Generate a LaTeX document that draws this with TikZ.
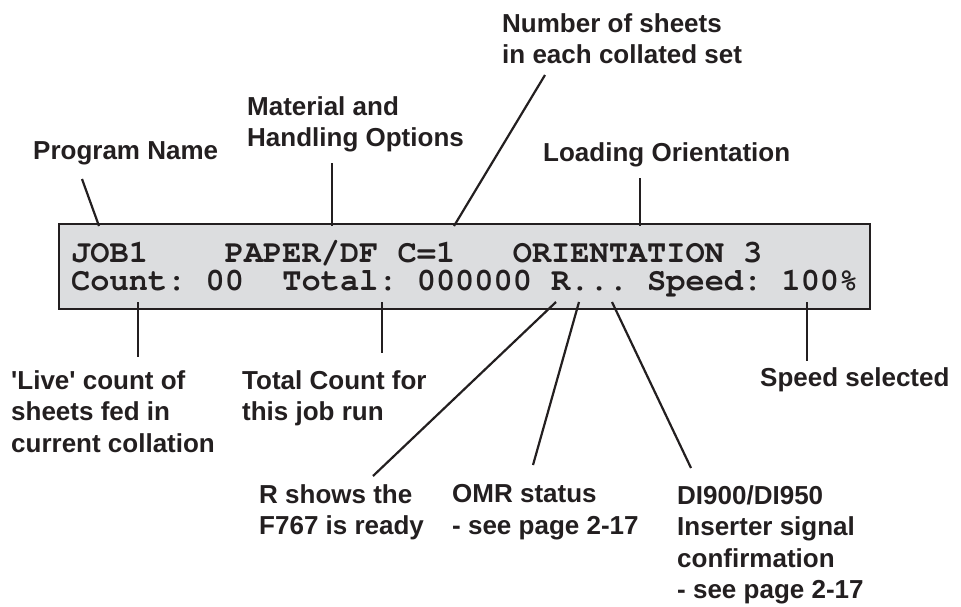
\documentclass[tikz,border=0pt]{standalone}
\usepackage{fontspec}
\newfontfamily\lblfont{Liberation Sans}
\newfontfamily\lcdfont{TeX Gyre Cursor}
\definecolor{ink}{HTML}{231F20}
\definecolor{lcdgrey}{HTML}{DCDDDF}

\begin{document}
\begin{tikzpicture}[x=1pt,y=-1pt,
		lbl/.style={anchor=north west,inner sep=0pt,align=left,text=ink,
			font=\lblfont\fontsize{26}{31.5}\selectfont\bfseries},
		lcdtext/.style={anchor=base west,inner sep=0pt,text=ink,
			text height=20pt,text depth=4pt,
			font=\lcdfont\fontsize{32}{34}\selectfont\bfseries},
		lead/.style={draw=ink,line width=2.2pt}]
			\useasboundingbox (0,0) rectangle (961,606);

			% display panel
			\draw[ink,fill=lcdgrey,line width=2.6pt] (59,224) rectangle (870,309);
			\node[lcdtext] (rowone) at (71,262) {JOB1~~~~PAPER/DF~C=1~~~ORIENTATION~3};
			\node[lcdtext] (rowtwo) at (71,290) {Count:~00~~Total:~000000~R...~Speed:~100\%};

			% labels above the panel
			\node[lbl] (prog) at (33,141.4) {Program Name};
			\node[lbl] (matl) at (247,96.4) {Material and\\Handling Options};
			\node[lbl] (sheets) at (502,13.4) {Number of sheets\\in each collated set};
			\node[lbl] (orient) at (543,142.4) {Loading Orientation};

			\coordinate (progend) at (82,179);
			\coordinate (progtip) at (99,226);
			\coordinate (matlend) at (332,163);
			\coordinate (matltip) at (332,226);
			\coordinate (sheetsend) at (545,75);
			\coordinate (sheetstip) at (454,226);
			\coordinate (orientend) at (640,178);
			\coordinate (orienttip) at (640,226);

			\draw[lead] (progend) -- (progtip);
			\draw[lead] (matlend) -- (matltip);
			\draw[lead] (sheetsend) -- (sheetstip);
			\draw[lead] (orientend) -- (orienttip);

			% labels below the panel
			\node[lbl] (live) at (11,370.4) {'Live' count of\\sheets fed in\\current collation};
			\node[lbl] (total) at (242,370.4) {Total Count for\\this job run};
			\node[lbl] (speed) at (760,367.4) {Speed selected};
			\node[lbl] (ready) at (259,484.4) {R shows the\\F767 is ready};
			\node[lbl] (omr) at (452,484.4) {OMR status\\- see page 2-17};
			\node[lbl] (insert) at (677,485.4) {DI900/DI950\\Inserter signal\\confirmation\\- see page 2-17};

			\coordinate (livetip) at (138,302);
			\coordinate (liveend) at (138,357);
			\coordinate (totaltip) at (382,302);
			\coordinate (totalend) at (382,353);
			\coordinate (readytip) at (556,302);
			\coordinate (readyend) at (373,476);
			\coordinate (omrtip) at (579,302);
			\coordinate (omrend) at (533,465);
			\coordinate (inserttip) at (612,302);
			\coordinate (insertend) at (691,468);
			\coordinate (speedtip) at (807,302);
			\coordinate (speedend) at (807,361);

			\draw[lead] (livetip) -- (liveend);
			\draw[lead] (totaltip) -- (totalend);
			\draw[lead] (readytip) -- (readyend);
			\draw[lead] (omrtip) -- (omrend);
			\draw[lead] (inserttip) -- (insertend);
			\draw[lead] (speedtip) -- (speedend);
		\end{tikzpicture}
\end{document}
